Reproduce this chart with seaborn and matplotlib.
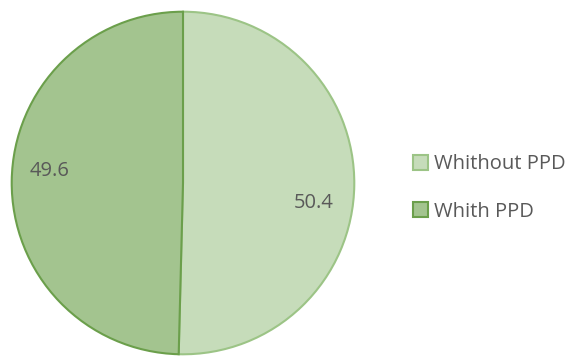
import matplotlib
matplotlib.use("Agg")
import matplotlib.pyplot as plt
import seaborn as sns

sns.set_theme(style="white")
plt.rcParams['font.family'] = ['Open Sans', 'DejaVu Sans']

categories = ["Whithout PPD", "Whith PPD"]
values = [50.4, 49.6]
face_colors = ["#c6dcba", "#a3c48f"]
edge_colors = ["#9cc486", "#6b9f4b"]

fig = plt.figure(figsize=(5.71, 3.56), dpi=100)
W, H = 571, 356
cx, cy, r = 183, 183, 173
ax = fig.add_axes([(cx - r) / W, (H - cy - r) / H, 2 * r / W, 2 * r / H])

wedges, _ = ax.pie(values, startangle=90, counterclock=False, radius=1,
                   colors=face_colors,
                   wedgeprops=dict(linewidth=1.5))
for w, ec in zip(wedges, edge_colors):
    w.set_edgecolor(ec)
ax.set_xlim(-1.01, 1.01)
ax.set_ylim(-1.01, 1.01)
ax.set_aspect('equal')
ax.axis('off')

label_pos = [(0.763, -0.116), (-0.777, 0.072)]
for (x, y), v in zip(label_pos, values):
    ax.text(x, y, f"{v}", ha='center', va='center', fontsize=14.5, color="#595959")

leg = fig.legend(wedges, categories, loc='center left',
                 bbox_to_anchor=(413 / W, 1 - 188 / H), frameon=False,
                 fontsize=14.5, labelcolor="#595959", handlelength=0.72,
                 handleheight=0.72, handletextpad=0.3, labelspacing=1.35,
                 borderpad=0, borderaxespad=0)

fig.savefig("out.png", dpi=100)
